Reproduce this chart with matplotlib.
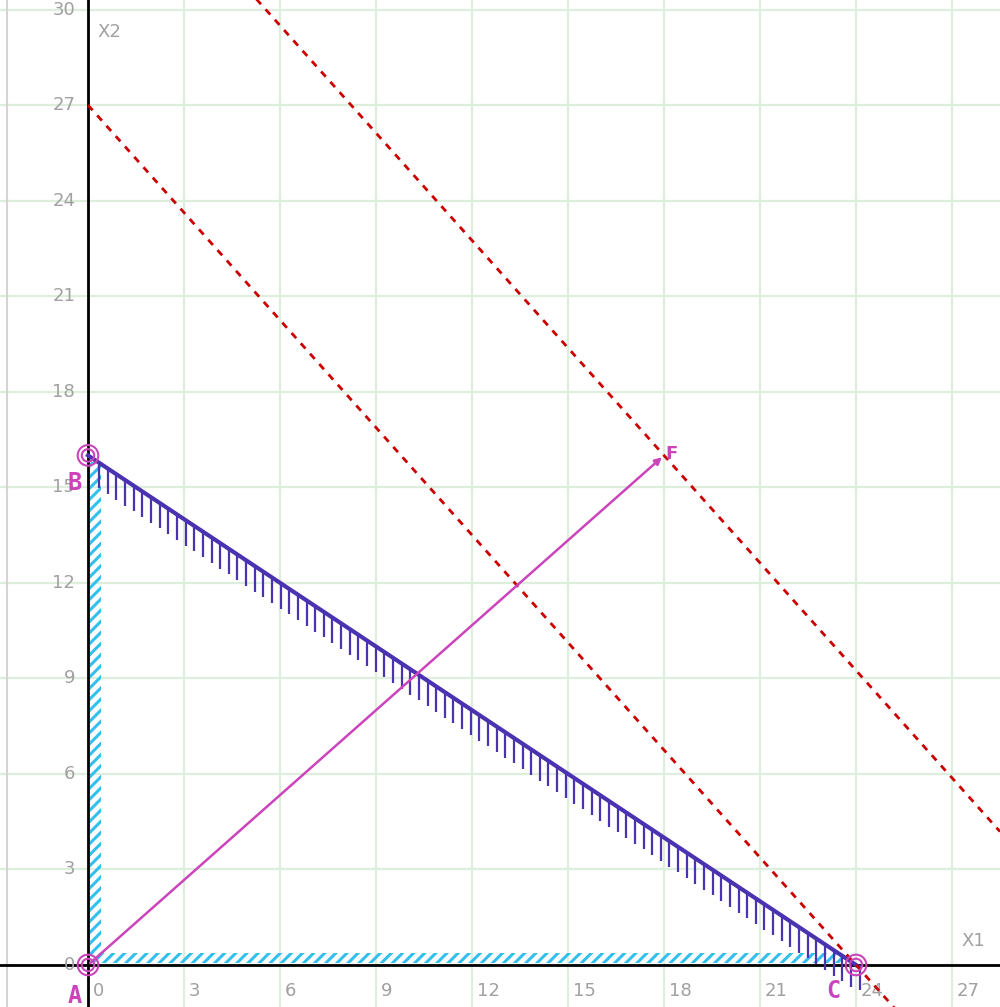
import numpy as np
import matplotlib.pyplot as plt

# vertices of the feasible region
vert_names = ["A", "B", "C"]
vert_x = [0, 0, 24]
vert_y = [0, 16, 0]

# gradient vector end point F
grad_x = [0, 18]
grad_y = [0, 16]

# objective 9*x1 + 8*x2 = level, two level lines
obj_c = [9, 8]
levels = [216, 290]

x_ticks = [0, 3, 6, 9, 12, 15, 18, 21, 24, 27]
y_ticks = [0, 3, 6, 9, 12, 15, 18, 21, 24, 27, 30]

fig = plt.figure(figsize=(10, 10.07), dpi=100)
ax = fig.add_axes([0, 0, 1, 1])
xmin, xmax = -2.75, 28.5
ymin, ymax = -1.32, 30.3
ax.set_xlim(xmin, xmax)
ax.set_ylim(ymin, ymax)
for s in ax.spines.values():
    s.set_visible(False)
ax.set_xticks([])
ax.set_yticks([])

grid_c = "#ddeedd"
for t in x_ticks:
    ax.axvline(t, color=grid_c, lw=1.6, zorder=0)
for t in y_ticks:
    ax.axhline(t, color=grid_c, lw=1.6, zorder=0)
ax.axvline(-2.53, color="#d4d4d4", lw=1.5, zorder=0)

# axes through origin
ax.axhline(0, color="black", lw=2, zorder=1)
ax.axvline(0, color="black", lw=2, zorder=1)

gray = "#a0a0a0"
for t in x_ticks:
    ax.text(t + 0.15, -0.55, str(t), color=gray, fontsize=13, ha="left", va="top")
for t in y_ticks:
    ax.text(-0.4, t, str(t), color=gray, fontsize=13, ha="right", va="center")
ax.text(0.3, 29.3, "X2", color=gray, fontsize=13, ha="left", va="center")
ax.text(27.3, 0.75, "X1", color=gray, fontsize=13, ha="left", va="center")

# non-negativity constraints, hatched cyan
cyan = "#33c0ee"
plt.rcParams["hatch.linewidth"] = 2.2
plt.rcParams["hatch.color"] = cyan
ax.fill_betweenx([0.1, vert_y[1] - 0.2], 0.05, 0.4, facecolor="none", edgecolor=cyan,
                 hatch="///", lw=0, zorder=2)
ax.fill_between([0.1, vert_x[2] - 0.4], 0.05, 0.38, facecolor="none", edgecolor=cyan,
                hatch="///", lw=0, zorder=2)

# main constraint B-C with vertical hatching below
blue = "#4b32b0"
bx = [vert_x[1], vert_x[2]]
by = [vert_y[1], vert_y[2]]
ax.plot(bx, by, color=blue, lw=3, zorder=3)
hx = np.arange(0.35, bx[1] + 0.2, 0.27)
hy = np.interp(hx, bx, by)
ax.vlines(hx, hy - 0.8, hy, color=blue, lw=1.6, zorder=3)

# objective level lines (drawn for x1 >= 0)
red = "#cc0000"
xs = np.array([0, xmax])
for lv in levels:
    ax.plot(xs, (lv - obj_c[0] * xs) / obj_c[1], color=red, lw=2,
            dashes=(2.5, 2.5), zorder=4)

# gradient arrow
mag = "#cc44bb"
ax.annotate("", xy=(grad_x[1], grad_y[1]), xytext=(grad_x[0], grad_y[0]),
            arrowprops=dict(arrowstyle="-|>", color=mag, lw=1.8,
                            mutation_scale=10), zorder=5)
ax.text(grad_x[1] + 0.05, grad_y[1] + 0.05, "F", color=mag, fontsize=13,
        fontweight="bold", ha="left", va="center", zorder=5)

# vertices
ax.scatter(vert_x, vert_y, s=220, facecolors="none", edgecolors=mag, lw=1.5, zorder=6)
ax.scatter(vert_x, vert_y, s=80, facecolors="none", edgecolors=mag, lw=1.5, zorder=6)
lab_off = {"A": (-0.2, -0.6), "B": (-0.2, -0.5), "C": (-0.5, -0.45)}
for n, x, y in zip(vert_names, vert_x, vert_y):
    dx, dy = lab_off[n]
    ax.text(x + dx, y + dy, n, color=mag, fontsize=17, fontweight="bold",
            family="DejaVu Sans Mono", ha="right", va="top", zorder=7)

fig.savefig("out.png", dpi=100)
